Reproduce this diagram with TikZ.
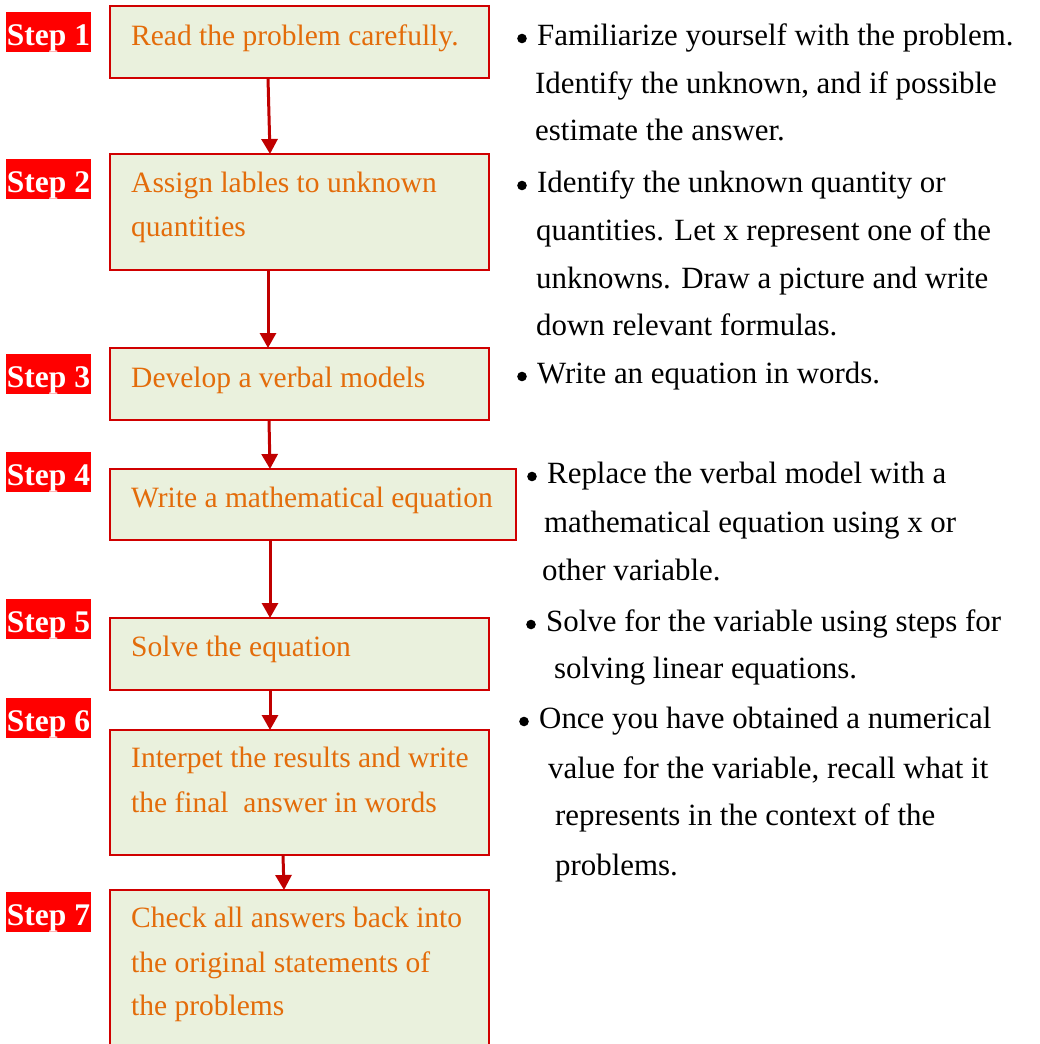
\documentclass[tikz,border=0pt]{standalone}
\usepackage{fontspec}
\setmainfont{Liberation Serif}
\usetikzlibrary{arrows.meta}
\definecolor{boxfill}{HTML}{EAF1DD}
\definecolor{boxline}{HTML}{D00000}
\definecolor{arrowred}{HTML}{C00000}
\definecolor{txtorange}{HTML}{E36C0A}
\newcommand\mybul{\makebox[20pt][l]{\tikz[baseline=-6.5pt]\fill (4.8pt,0pt) circle[radius=4.8pt];}}
\tikzset{
  flowbox/.style={draw=boxline, line width=2.5pt, fill=boxfill, inner sep=0pt, outer sep=0pt},
  boxtext/.style={anchor=base west, inner sep=0pt, text=txtorange, font=\fontsize{29.5}{36}\selectfont},
  desc/.style={anchor=base west, inner sep=0pt, text=black, font=\fontsize{30.9}{36}\selectfont},
  steplab/.style={anchor=base, fill=red, text=white, inner xsep=0pt, inner ysep=0pt,
    minimum width=85pt, text height=33pt, text depth=7pt, font=\bfseries\fontsize{31.5}{36}\selectfont},
  flowarrow/.style={draw=arrowred, line width=3pt, -{Triangle[width=16pt,length=15pt]}},
}
\begin{document}
\begin{tikzpicture}[x=1pt, y=-1pt]
\useasboundingbox (0,0) rectangle (1040,1044);
\clip (0,0) rectangle (1040,1044);
\fill[white] (0,0) rectangle (1040,1044);

% flow boxes
\node[flowbox, minimum width=379pt, minimum height=72pt]  (b1) at (299.5,42) {};
\node[flowbox, minimum width=379pt, minimum height=116pt] (b2) at (299.5,212) {};
\node[flowbox, minimum width=379pt, minimum height=72pt]  (b3) at (299.5,384) {};
\node[flowbox, minimum width=406pt, minimum height=71pt]  (b4) at (313,504.5) {};
\node[flowbox, minimum width=379pt, minimum height=72pt]  (b5) at (299.5,654) {};
\node[flowbox, minimum width=379pt, minimum height=125pt] (b6) at (299.5,792.5) {};
\node[flowbox, minimum width=379pt, minimum height=180pt] (b7) at (299.5,980) {};

% box texts
\node[boxtext] (t1)  at (131,45)   {Read the problem carefully.};
\node[boxtext] (t2a) at (131,192)  {Assign lables to unknown};
\node[boxtext] (t2b) at (131,236)  {quantities};
\node[boxtext] (t3)  at (131,387)  {Develop a verbal models};
\node[boxtext] (t4)  at (131,507)  {Write a mathematical equation};
\node[boxtext] (t5)  at (131,656)  {Solve the equation};
\node[boxtext] (t6a) at (131,767)  {Interpet the results and write};
\node[boxtext] (t6b) at (131,812)  {the final~ answer in words};
\node[boxtext] (t7a) at (131,927)  {Check all answers back into};
\node[boxtext] (t7b) at (131,972)  {the original statements of};
\node[boxtext] (t7c) at (131,1015) {the problems};

% step labels
\node[steplab] (s1) at (48.5,45)  {Step 1};
\node[steplab] (s2) at (48.5,192) {Step 2};
\node[steplab] (s3) at (48.5,387) {Step 3};
\node[steplab] (s4) at (48.5,485) {Step 4};
\node[steplab] (s5) at (48.5,632) {Step 5};
\node[steplab] (s6) at (48.5,731) {Step 6};
\node[steplab] (s7) at (48.5,925) {Step 7};

% arrows
\draw[flowarrow] ([xshift=-31.5pt]b1.south) -- ([xshift=-29.5pt]b2.north);
\draw[flowarrow] ([xshift=-31.5pt]b2.south) -- ([xshift=-31.5pt]b3.north);
\draw[flowarrow] ([xshift=-30.5pt]b3.south) -- ([xshift=-43pt]b4.north);
\draw[flowarrow] ([xshift=-43pt]b4.south)   -- ([xshift=-29.5pt]b5.north);
\draw[flowarrow] ([xshift=-29.5pt]b5.south) -- ([xshift=-29.5pt]b6.north);
\draw[flowarrow] ([xshift=-16.5pt]b6.south) -- ([xshift=-15.5pt]b7.north);

% descriptions
\node[desc] (d1a) at (517,45)  {\mybul Familiarize yourself with the problem.};
\node[desc] (d1b) at (535,93)  {Identify the unknown, and if possible};
\node[desc] (d1c) at (535,140) {estimate the answer.};
\node[desc] (d2a) at (517,192) {\mybul Identify the unknown quantity or};
\node[desc] (d2b) at (536,240) {quantities. Let x represent one of the};
\node[desc] (d2c) at (536,288) {unknowns. Draw a picture and write};
\node[desc] (d2d) at (536,335) {down relevant formulas.};
\node[desc] (d3a) at (517,383) {\mybul Write an equation in words.};
\node[desc] (d4a) at (527,483) {\mybul Replace the verbal model with a};
\node[desc] (d4b) at (544,532) {mathematical equation using x or};
\node[desc] (d4c) at (542,580) {other variable.};
\node[desc] (d5a) at (526,631) {\mybul Solve for the variable using steps for};
\node[desc] (d5b) at (554,678) {solving linear equations.};
\node[desc] (d6a) at (519,728) {\mybul Once you have obtained a numerical};
\node[desc] (d6b) at (548,778) {value for the variable, recall what it};
\node[desc] (d6c) at (555,825) {represents in the context of the};
\node[desc] (d6d) at (555,875) {problems.};
\end{tikzpicture}
\end{document}
